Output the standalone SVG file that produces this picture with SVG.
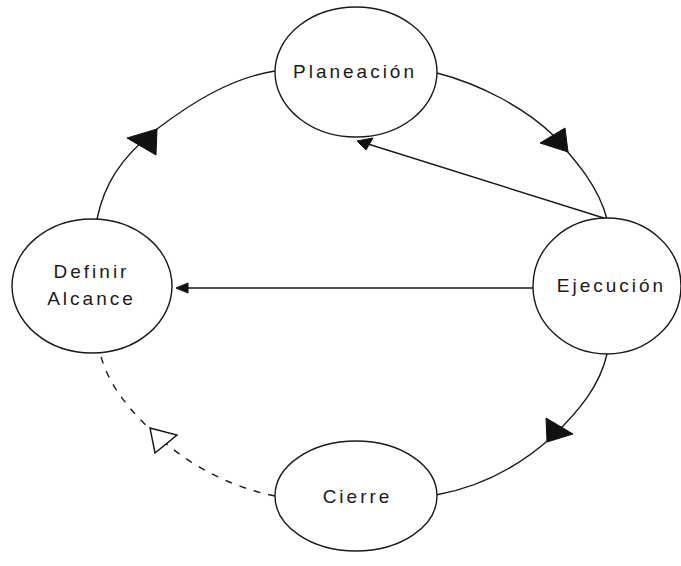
<svg xmlns="http://www.w3.org/2000/svg" width="681" height="566" viewBox="0 0 681 566">
  <style>
    .node { fill: #ffffff; stroke: #1a1a1a; stroke-width: 1.4; }
    .label { font-family: "Liberation Sans", Arial, sans-serif; font-size: 19px; letter-spacing: 3px; fill: #1a1a1a; text-anchor: middle; }
    .edge { fill: none; stroke: #1a1a1a; stroke-width: 1.4; }
    .dashed { stroke-dasharray: 7 8; }
    .head { fill: #111111; stroke: #111111; stroke-width: 1; stroke-linejoin: miter; }
    .head-open { fill: #ffffff; stroke: #111111; stroke-width: 1.4; }
  </style>
  <rect width="681" height="566" fill="#ffffff"/>

  <!-- connectors -->
  <g id="connectors">
    <!-- Definir Alcance -> Planeación -->
    <path class="edge" d="M97,219 C104,185 120,158 157,129 C190,104 230,78 275,71"/>
    <polygon class="head" points="127,138 157,129 156,155"/>
    <!-- Planeación -> Ejecución -->
    <path class="edge" d="M437,73 C480,84 525,108 553,135 C575,160 598,185 607,219"/>
    <polygon class="head" points="540,143 565,128 568,152"/>
    <!-- Ejecución -> Cierre -->
    <path class="edge" d="M607,354 C600,385 580,410 553,436 C520,466 480,487 436,495"/>
    <polygon class="head" points="546,418 573,434 547,442"/>
    <!-- Cierre -> Definir Alcance (dashed) -->
    <path class="edge dashed" d="M275,496 C230,487 190,465 162,440 C130,412 108,385 100,353"/>
    <polygon class="head-open" points="150,428 177,435 155,453"/>
    <!-- Ejecución -> Planeación -->
    <line class="edge" x1="607" y1="219" x2="368" y2="144"/>
    <polygon class="head" points="357,141 373,138 366,150"/>
    <!-- Ejecución -> Definir Alcance -->
    <line class="edge" x1="533" y1="288" x2="180" y2="288"/>
    <polygon class="head" points="176,288 188,283 188,293"/>
  </g>

  <g id="planeacion">
    <ellipse class="node" cx="356" cy="72" rx="81" ry="65"/>
    <text class="label" x="355" y="78">Planeación</text>
  </g>

  <g id="definir-alcance">
    <ellipse class="node" cx="92" cy="286" rx="80" ry="67"/>
    <text class="label" x="91.5" y="278">Definir</text>
    <text class="label" x="91.5" y="305">Alcance</text>
  </g>

  <g id="ejecucion">
    <ellipse class="node" cx="607" cy="286" rx="74" ry="68"/>
    <text class="label" x="611.5" y="292">Ejecución</text>
  </g>

  <g id="cierre">
    <ellipse class="node" cx="356" cy="496" rx="81" ry="55"/>
    <text class="label" x="357.5" y="503">Cierre</text>
  </g>
</svg>
